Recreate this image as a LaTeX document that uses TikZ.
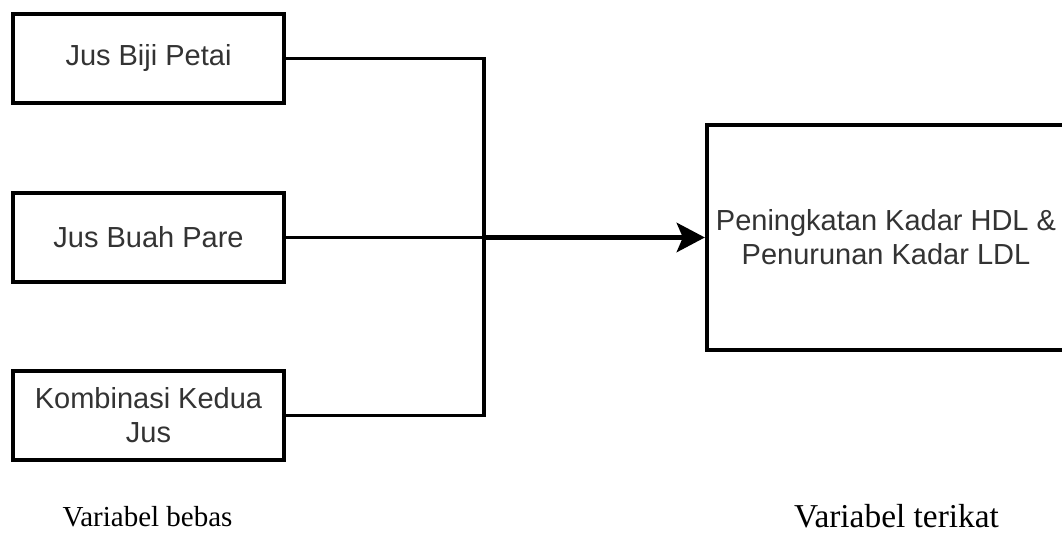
\documentclass[tikz,border=0pt]{standalone}
\usepackage{fontspec}
\setmainfont{Liberation Serif}
\newfontfamily\boxfont{Liberation Sans}
\usetikzlibrary{arrows.meta}
\tikzset{
  varbox/.style={draw=black, line width=2.4pt, fill=white, minimum width=5.42cm, minimum height=1.78cm,
    align=center, inner sep=0pt, text=black!80, font=\boxfont\fontsize{16.5}{19.5}\selectfont},
  link/.style={line width=2.1pt},
  varlabel/.style={font=\fontsize{16.5}{19.5}\selectfont, inner sep=0pt, anchor=base}
}
\begin{document}
\begin{tikzpicture}
% \clip (0,0) rectangle (21.240000,10.720000);
\clip (0,0) rectangle (21.240000,10.720000);

% Drawing independent variables
\node [varbox] (petai) at (2.970000,9.550000) {Jus Biji Petai};
\node [varbox] (pare) at (2.970000,5.970000) {Jus Buah Pare};
\node [varbox] (kombinasi) at (2.970000,2.410000) {Kombinasi Kedua\\Jus};

% Drawing dependent variable
\node [varbox, minimum width=7.160000cm, minimum height=4.500000cm] (kadar) at (17.720000,5.970000)
  {Peningkatan Kadar HDL \&\\Penurunan Kadar LDL};

% Drawing connectors
\coordinate (junction) at (9.680000,5.970000);
\draw [link] (petai.east) -| (junction);%
\draw [link] (kombinasi.east) -| (junction);%
\draw [link] (pare.east) -- (junction);%
\draw [line width=3.2pt, -{Stealth[length=0.56cm, width=0.58cm, inset=0.12cm]}] (junction) -- (kadar.west);%

% Drawing labels
\node [varlabel] (bebas) at (2.950000,0.180000) {Variabel bebas};
\node [varlabel, font=\fontsize{19}{22}\selectfont] (terikat) at (17.930000,0.160000) {Variabel terikat};
\end{tikzpicture}
\end{document}
